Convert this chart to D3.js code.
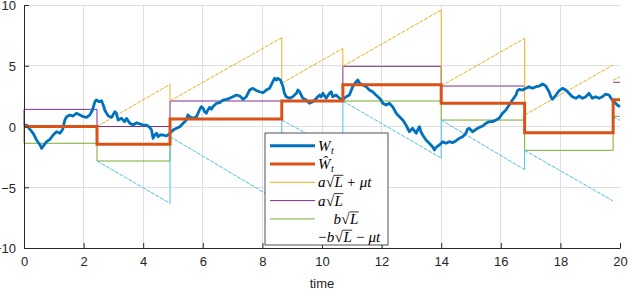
<!DOCTYPE html>
<html>
<head>
<meta charset="utf-8">
<script src="https://cdn.jsdelivr.net/npm/d3@7"></script>
<style>
  body { margin: 0; background: #fff; }
  svg { display: block; }
</style>
</head>
<body>
<div id="chart"></div>
<script>
// W(t)
const wTime = [0.00, 0.09, 0.20, 0.31, 0.42, 0.54, 0.59, 0.65, 0.76, 0.87, 0.98, 1.09, 1.21, 1.30, 1.37, 1.43, 1.54, 1.65, 1.76, 1.88,
  1.99, 2.10, 2.21, 2.30, 2.38, 2.43, 2.52, 2.60, 2.66, 2.71, 2.77, 2.83, 2.94, 3.05, 3.10, 3.16, 3.27, 3.38, 3.44, 3.55,
  3.66, 3.78, 3.89, 4.00, 4.11, 4.22, 4.28, 4.33, 4.39, 4.45, 4.50, 4.56, 4.67, 4.78, 4.87, 4.91, 4.95, 5.00, 5.12, 5.23,
  5.34, 5.45, 5.50, 5.56, 5.67, 5.79, 5.84, 5.90, 5.95, 6.01, 6.06, 6.12, 6.17, 6.23, 6.29, 6.34, 6.46, 6.57, 6.68, 6.79,
  6.90, 7.01, 7.13, 7.24, 7.35, 7.46, 7.57, 7.68, 7.80, 7.91, 8.02, 8.13, 8.24, 8.35, 8.41, 8.47, 8.52, 8.60, 8.63, 8.69,
  8.74, 8.80, 8.91, 9.02, 9.14, 9.19, 9.25, 9.30, 9.36, 9.47, 9.58, 9.69, 9.81, 9.86, 9.92, 9.97, 10.03, 10.14, 10.25, 10.31,
  10.36, 10.47, 10.59, 10.68, 10.75, 10.81, 10.92, 11.03, 11.15, 11.20, 11.26, 11.37, 11.48, 11.59, 11.70, 11.81, 11.93, 11.98, 12.04, 12.15,
  12.26, 12.37, 12.49, 12.60, 12.71, 12.82, 12.93, 13.04, 13.16, 13.21, 13.27, 13.32, 13.38, 13.49, 13.60, 13.71, 13.77, 13.83, 13.94, 14.05,
  14.16, 14.27, 14.38, 14.50, 14.61, 14.72, 14.83, 14.88, 14.94, 15.05, 15.17, 15.28, 15.39, 15.50, 15.61, 15.72, 15.84, 15.95, 16.06, 16.17,
  16.28, 16.39, 16.51, 16.56, 16.62, 16.73, 16.84, 16.95, 17.06, 17.18, 17.29, 17.40, 17.51, 17.62, 17.68, 17.73, 17.85, 17.96, 18.07, 18.18,
  18.29, 18.40, 18.52, 18.63, 18.74, 18.85, 18.96, 19.02, 19.07, 19.18, 19.30, 19.41, 19.52, 19.63, 19.74, 19.80, 19.91, 20.00];
const wValue = [0.10, 0.12, -0.23, -0.56, -1.11, -1.52, -1.80, -1.60, -1.25, -1.06, -0.70, -0.43, -0.56, -0.23, 0.53, 0.81, 0.95, 0.86, 1.09, 0.95,
  0.81, 0.75, 0.95, 1.36, 2.04, 2.18, 2.04, 2.12, 1.77, 1.36, 1.09, 0.86, 0.75, 1.22, 1.09, 0.53, 0.67, 0.40, 0.67, 0.26,
  0.12, 0.31, 0.21, 0.12, 0.12, -0.07, -0.29, -0.97, -0.70, -0.56, -0.84, -0.70, -0.70, -0.78, -0.62, -0.51, -0.43, -0.29, -0.15, -0.02,
  0.26, 0.53, 0.95, 0.81, 0.67, 0.81, 1.09, 1.42, 1.63, 1.50, 1.22, 1.09, 1.36, 1.58, 1.42, 1.63, 1.91, 1.96, 2.18, 2.24,
  2.32, 2.45, 2.59, 2.51, 2.24, 2.45, 3.00, 3.14, 2.95, 2.86, 2.78, 3.00, 3.14, 3.69, 3.97, 3.83, 3.97, 3.83, 3.69, 3.28,
  2.73, 2.45, 2.32, 2.45, 2.73, 3.00, 2.86, 2.59, 2.32, 2.18, 1.91, 2.04, 2.32, 2.45, 2.59, 2.45, 2.73, 2.32, 2.73, 2.86,
  2.45, 2.59, 2.32, 2.18, 2.32, 2.45, 2.59, 3.28, 3.69, 3.83, 3.56, 3.42, 3.28, 3.00, 2.86, 2.59, 2.32, 2.18, 1.91, 1.77,
  1.91, 1.63, 1.09, 0.81, 0.53, 0.12, -0.43, -0.15, -0.56, -0.29, -0.02, -0.43, -0.70, -1.11, -1.38, -1.66, -1.93, -1.71, -1.52, -1.25,
  -1.38, -1.25, -1.33, -1.17, -0.97, -0.84, -0.56, -0.23, -0.15, -0.43, -0.23, -0.07, 0.04, 0.26, 0.40, 0.40, 0.53, 0.70, 1.10, 1.36,
  1.77, 2.18, 2.59, 2.95, 3.06, 3.00, 3.14, 3.28, 3.14, 3.28, 3.33, 3.50, 3.33, 2.86, 2.45, 2.24, 2.59, 2.95, 3.14, 3.00,
  2.73, 2.45, 2.32, 2.51, 2.32, 2.45, 2.73, 2.51, 2.32, 2.45, 2.32, 2.45, 2.67, 2.59, 2.18, 2.04, 1.77, 1.63];

// jump times of the estimate and the levels on each interval
const jumpTimes = [0, 2.45, 4.9, 8.65, 10.7, 14.0, 16.8, 19.77, 20];
const wHat = [0, -1.47, 0.62, 2.10, 3.44, 1.92, -0.51, 2.20];
const upperLevel = [1.41, 0.0, 2.10, 2.10, 4.95, 3.33, null, 3.64];
const lowerLevel = [-1.38, -2.84, 0.62, 2.10, 2.10, 0.53, -1.96, 0.84];
const upDriftStart = [null, 0.0, 2.10, 3.56, 4.95, 3.33, 0.95, 3.80];
const upDriftEnd = [null, 3.47, 7.31, 6.43, 9.59, 7.26, 5.06, 4.10];
const downDriftStart = [null, -2.84, -0.84, 0.53, 2.10, 0.53, -1.96, 0.80];
const downDriftEnd = [null, -6.32, -6.30, -2.20, -2.60, -3.55, -6.13, 0.50];

const xTicks = [0, 2, 4, 6, 8, 10, 12, 14, 16, 18, 20];
const yTicks = [-10, -5, 0, 5, 10];

const colors = {
  w: "#0072BD", what: "#D95319", up: "#EDB120",
  upper: "#7E2F8E", lower: "#77AC30", down: "#4DBEEE"
};

const width = 628, height = 290;
const svg = d3.select("#chart").append("svg")
  .attr("width", width).attr("height", height)
  .style("font-family", "'Liberation Sans', Arial, sans-serif");

const x = d3.scaleLinear().domain([0, 20]).range([24, 620]);
const y = d3.scaleLinear().domain([-10, 10]).range([248, 5]);

// grid
svg.append("g").selectAll("line").data(xTicks.filter(d => d > 0 && d < 20)).join("line")
  .attr("x1", d => x(d)).attr("x2", d => x(d)).attr("y1", y(-10)).attr("y2", y(10))
  .attr("stroke", "#dfdfdf").attr("stroke-width", 1).attr("shape-rendering", "crispEdges");
svg.append("g").selectAll("line").data(yTicks.filter(d => d > -10)).join("line")
  .attr("x1", x(0)).attr("x2", x(20)).attr("y1", d => y(d)).attr("y2", d => y(d))
  .attr("stroke", "#dfdfdf").attr("stroke-width", 1).attr("shape-rendering", "crispEdges");

const plot = svg.append("g");
const line = d3.line().defined(d => d !== null).x(d => x(d[0])).y(d => y(d[1]));

function stepPoints(levels) {
  const pts = [[0, 0]];
  levels.forEach((v, k) => {
    if (v === null) { pts.push(null); return; }
    pts.push([jumpTimes[k], v], [jumpTimes[k + 1], v]);
  });
  return pts;
}

plot.append("path").attr("d", line(stepPoints(lowerLevel)))
  .attr("fill", "none").attr("stroke", colors.lower).attr("stroke-width", 1);
plot.append("path").attr("d", line(stepPoints(upperLevel)))
  .attr("fill", "none").attr("stroke", colors.upper).attr("stroke-width", 1);

// drifting bounds: sloped parts look broken at this size, verticals are solid
function driftLines(starts, ends, color) {
  const g = plot.append("g");
  for (let k = 1; k < starts.length; k++) {
    g.append("line")
      .attr("x1", x(jumpTimes[k])).attr("y1", y(starts[k]))
      .attr("x2", x(jumpTimes[k + 1])).attr("y2", y(ends[k]))
      .attr("stroke", color).attr("stroke-width", 1).attr("stroke-dasharray", "4,1.2");
    if (k > 1 && k < starts.length - 1) {
      g.append("line")
        .attr("x1", x(jumpTimes[k])).attr("y1", y(ends[k - 1]))
        .attr("x2", x(jumpTimes[k])).attr("y2", y(starts[k]))
        .attr("stroke", color).attr("stroke-width", 1);
    }
  }
}
driftLines(downDriftStart, downDriftEnd, colors.down);
driftLines(upDriftStart, upDriftEnd, colors.up);

plot.append("path").attr("d", line(wTime.map((t, i) => [t, wValue[i]])))
  .attr("fill", "none").attr("stroke", colors.w).attr("stroke-width", 2.8)
  .attr("stroke-linejoin", "round");

const hatPts = wHat.map((v, k) => [jumpTimes[k], v]).concat([[20, wHat[wHat.length - 1]]]);
plot.append("path").attr("d", d3.line().curve(d3.curveStepAfter).x(d => x(d[0])).y(d => y(d[1]))(hatPts))
  .attr("fill", "none").attr("stroke", colors.what).attr("stroke-width", 3);

// axes
const xAxis = svg.append("g").attr("transform", "translate(0," + y(-10) + ")")
  .call(d3.axisBottom(x).tickValues(xTicks).tickSizeInner(-5).tickSizeOuter(0).tickPadding(9));
const yAxis = svg.append("g").attr("transform", "translate(" + x(0) + ",0)")
  .call(d3.axisLeft(y).tickValues(yTicks).tickSizeInner(-5).tickSizeOuter(0).tickPadding(8));
[xAxis, yAxis].forEach(a => {
  a.select(".domain").attr("stroke", "#262626");
  a.selectAll(".tick line").attr("stroke", "#262626");
  a.selectAll(".tick text").attr("fill", "#262626").style("font-size", "13px")
    .style("font-family", "'Liberation Sans', Arial, sans-serif");
});
yAxis.selectAll(".tick text").attr("dy", "0.38em");

svg.append("text").attr("x", x(10)).attr("y", 288).attr("text-anchor", "middle")
  .attr("fill", "#262626").style("font-size", "13px").text("time");

// legend
const legendLabels = [
  [{s: "W", i: 1}, {s: "t", i: 1, sub: 1}],
  [{s: "Ŵ", i: 1}, {s: "t", i: 1, sub: 1}],
  [{s: "a", i: 1}, {s: "√"}, {s: "L", i: 1, over: 1}, {s: " + "}, {s: "μt", i: 1}],
  [{s: "a", i: 1}, {s: "√"}, {s: "L", i: 1, over: 1}],
  [{s: "\u2002\u2002"}, {s: "b", i: 1}, {s: "√"}, {s: "L", i: 1, over: 1}],
  [{s: "−"}, {s: "b", i: 1}, {s: "√"}, {s: "L", i: 1, over: 1}, {s: " − "}, {s: "μt", i: 1}]
];
const legendColors = [colors.w, colors.what, colors.up, colors.upper, colors.lower, null];
const legendWidths = [3, 3, 1, 1, 1, 1];

const leg = svg.append("g").attr("transform", "translate(265,133)");
leg.append("rect").attr("width", 123).attr("height", 112)
  .attr("fill", "#fff").attr("stroke", "#262626").attr("stroke-width", 0.8);

legendLabels.forEach((parts, r) => {
  const yy = 12.7 + r * 18.3;
  if (legendColors[r]) {
    leg.append("line").attr("x1", 5).attr("x2", 50).attr("y1", yy).attr("y2", yy)
      .attr("stroke", legendColors[r]).attr("stroke-width", legendWidths[r]);
  }
  let cx = 53;
  const base = yy + 5;
  parts.forEach(p => {
    const fs = p.sub ? 10 : 15;
    const t = leg.append("text").attr("x", cx).attr("y", base + (p.sub ? 3 : 0))
      .style("font-family", "'Liberation Serif', 'DejaVu Serif', serif")
      .style("font-size", fs + "px").style("font-style", p.i ? "italic" : "normal")
      .attr("fill", "#000").attr("xml:space", "preserve").text(p.s);
    const w = t.node().getComputedTextLength();
    if (p.over) {
      leg.append("line").attr("x1", cx - 0.5).attr("x2", cx + w + 0.5)
        .attr("y1", base - 12).attr("y2", base - 12)
        .attr("stroke", "#000").attr("stroke-width", 0.8);
    }
    cx += w + (p.sub ? 0.5 : 0.4);
  });
});
</script>
</body>
</html>
